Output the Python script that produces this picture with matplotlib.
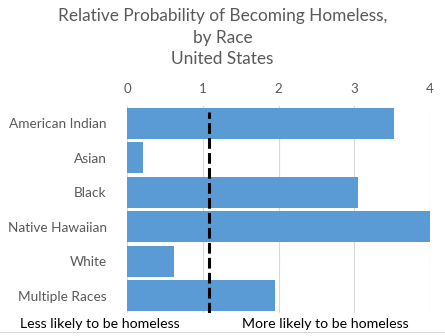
import matplotlib
matplotlib.use("Agg")
import matplotlib.pyplot as plt
from matplotlib.lines import Line2D

plt.rcParams['font.family'] = ['Lato', 'DejaVu Sans']

races = ["American Indian", "Asian", "Black", "Native Hawaiian", "White", "Multiple Races"]
relative_prob = [3.53, 0.21, 3.05, 4.02, 0.61, 1.95]
x_ticks = [0, 1, 2, 3, 4]
reference_value = 1.08

fig = plt.figure(figsize=(4.45, 3.36), dpi=100)
ax = fig.add_axes([0.2865, 0.0685, 0.6798, 0.616])

ax.barh(range(len(races)), relative_prob, height=0.91, color="#5B9BD5", zorder=2)
ax.set_ylim(len(races) - 0.5, -0.5)
ax.set_xlim(0, 4)
ax.set_xticks(x_ticks)
ax.set_xticklabels([str(t) for t in x_ticks])
ax.xaxis.tick_top()
ax.set_yticks(range(len(races)))
ax.set_yticklabels(races)
ax.tick_params(axis="x", length=0, labelsize=9.5, labelcolor="#595959", pad=8)
ax.tick_params(axis="y", length=0, labelsize=9.8, labelcolor="#595959", pad=15)
ax.grid(axis="x", color="#D9D9D9", linewidth=0.8, zorder=1)
ax.set_axisbelow(True)
for s in ax.spines.values():
    s.set_visible(False)

ax.axvline(reference_value, ymin=0, ymax=0.97, color="black", linewidth=2.2,
           linestyle=(0, (3.5, 1.4)), zorder=3)

fig.text(0.5, 0.977, "Relative Probability of Becoming Homeless,\nby Race\nUnited States",
         ha="center", va="top", fontsize=12.4, color="#595959", linespacing=1.45)

fig.text(0.045, 0.035, "Less likely to be homeless", ha="left", va="center",
         fontsize=10.2, color="black")
fig.text(0.919, 0.035, "More likely to be homeless", ha="right", va="center",
         fontsize=10.2, color="black")

fig.add_artist(Line2D([0, 1], [0.012, 0.012], color="#D9D9D9", linewidth=0.8,
                      transform=fig.transFigure))

fig.savefig("out.png", dpi=100)
